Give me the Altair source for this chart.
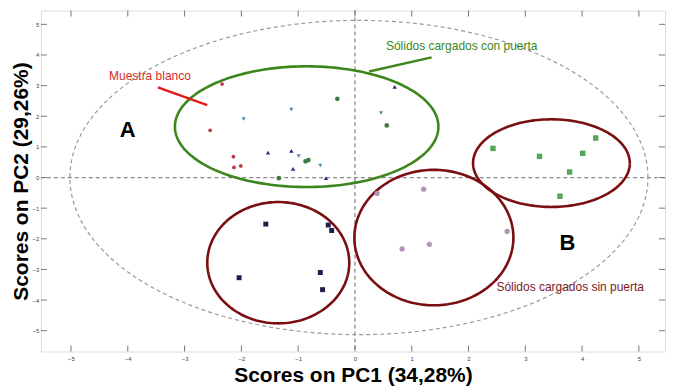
import altair as alt
import numpy as np
import pandas as pd

# ---- data ----
blank_x = [-2.34, -2.55, -2.14, -2.13, -2.01]
blank_y = [3.05, 1.54, 0.68, 0.33, 0.38]

dtri_x = [-1.96, -1.12, 0.46, -0.99, -0.61]
dtri_y = [1.91, 2.22, 2.11, 0.70, 0.39]

utri_x = [0.70, -1.53, -1.12, -1.09, -0.51]
utri_y = [2.96, 0.81, 0.87, 0.28, -0.02]

gdot_x = [-0.31, 0.56, -0.87, -0.82, -1.34]
gdot_y = [2.57, 1.70, 0.53, 0.57, -0.02]

nsq_x = [-1.57, -0.47, -0.41, -2.04, -0.61, -0.57]
nsq_y = [-1.52, -1.55, -1.73, -3.27, -3.10, -3.66]

pdot_x = [0.39, 1.21, 2.68, 0.83, 1.31]
pdot_y = [-0.52, -0.38, -1.76, -2.33, -2.18]

gsq_x = [2.43, 3.25, 4.24, 4.01, 3.78, 3.61]
gsq_y = [0.95, 0.69, 1.29, 0.79, 0.18, -0.61]

tick_values = [-5, -4, -3, -2, -1, 0, 1, 2, 3, 4, 5]

# ellipses: name, cx, cy, rx, ry
ell_names = ["T2", "green", "red1", "red2", "red3"]
ell_cx = [0.07, -0.85, -1.35, 1.39, 3.46]
ell_cy = [0.0, 1.66, -2.78, -1.96, 0.47]
ell_rx = [5.09, 2.32, 1.25, 1.40, 1.38]
ell_ry = [5.13, 1.97, 1.98, 2.21, 1.43]

XD = [-5.53, 5.46]
YD = [-5.68, 5.45]
W, H = 626, 342

groups = ["blank", "dtri", "utri", "gdot", "nsq", "pdot", "gsq"]
gx = [blank_x, dtri_x, utri_x, gdot_x, nsq_x, pdot_x, gsq_x]
gy = [blank_y, dtri_y, utri_y, gdot_y, nsq_y, pdot_y, gsq_y]
rows = []
for g, xs_, ys_ in zip(groups, gx, gy):
    for a, b in zip(xs_, ys_):
        rows.append({"x": a, "y": b, "g": g})
pts = pd.DataFrame(rows)

t = np.linspace(0, 2 * np.pi, 181)
erows = []
for n, cx, cy, rx, ry in zip(ell_names, ell_cx, ell_cy, ell_rx, ell_ry):
    for i, a in enumerate(t):
        erows.append({"x": cx + rx * np.cos(a), "y": cy + ry * np.sin(a), "g": n, "o": i})
ell = pd.DataFrame(erows)

xs = alt.Scale(domain=XD, nice=False, zero=False)
ys = alt.Scale(domain=YD, nice=False, zero=False)

x_axis = alt.Axis(
    values=tick_values, format="d", labelOverlap=False, ticks=False, domain=False,
    grid=False, labelFontSize=6, labelColor="#444", labelPadding=4,
    labelFont="Liberation Sans",
    title="Scores on PC1 (34,28%)", titleFont="Liberation Sans", titleFontSize=21,
    titleFontWeight="bold", titleColor="black", titleY=24, titleBaseline="middle")
y_axis = alt.Axis(
    values=tick_values, format="d", labelOverlap=False, ticks=False, domain=False,
    grid=False, labelFontSize=6, labelColor="#444", labelPadding=2,
    labelFont="Liberation Sans",
    title="Scores on PC2 (29,26%)", titleFont="Liberation Sans", titleFontSize=21,
    titleFontWeight="bold", titleColor="black", titleX=-19, titleBaseline="middle")


def X(f):
    return alt.X(f, scale=xs, axis=x_axis)


def Y(f):
    return alt.Y(f, scale=ys, axis=y_axis)


ticks_df = pd.DataFrame({"v": tick_values})
tick_style = dict(color="#777", strokeWidth=1)
tb = alt.Chart(ticks_df).mark_rule(**tick_style).encode(
    x=X("v:Q"), y=alt.value(H), y2=alt.value(H - 6))
tt = alt.Chart(ticks_df).mark_rule(**tick_style).encode(
    x=X("v:Q"), y=alt.value(0), y2=alt.value(6))
tl = alt.Chart(ticks_df).mark_rule(**tick_style).encode(
    y=Y("v:Q"), x=alt.value(0), x2=alt.value(6))
tr = alt.Chart(ticks_df).mark_rule(**tick_style).encode(
    y=Y("v:Q"), x=alt.value(W), x2=alt.value(W - 6))

zero_df = pd.DataFrame({"v": [0]})
zx = alt.Chart(zero_df).mark_rule(color="#8a8a8a", strokeDash=[4, 3], strokeWidth=1.3).encode(
    x=X("v:Q"))
zy = alt.Chart(zero_df).mark_rule(color="#8a8a8a", strokeDash=[4, 3], strokeWidth=1.3).encode(
    y=Y("v:Q"))

t2 = alt.Chart(ell[ell.g == "T2"]).mark_line(
    color="#9a9a9a", strokeDash=[4, 3], strokeWidth=1.2).encode(
    x=X("x:Q"), y=Y("y:Q"), order="o:Q")

ecol = alt.Chart(ell[ell.g != "T2"]).mark_line(strokeWidth=2.6).encode(
    x=X("x:Q"), y=Y("y:Q"), order="o:Q",
    detail="g:N",
    color=alt.Color("g:N", scale=alt.Scale(domain=["green", "red1", "red2", "red3"],
                                           range=["#3c861c", "#7a0f12", "#7a0f12", "#7a0f12"]),
                    legend=None))

# pointer lines
ptr = pd.DataFrame({
    "x": [-3.47, -2.60, 1.35, 0.25],
    "y": [2.94, 2.36, 3.92, 3.46],
    "g": ["r", "r", "gr", "gr"],
    "o": [0, 1, 0, 1],
})
ptrs = alt.Chart(ptr).mark_line(strokeWidth=2.4).encode(
    x=X("x:Q"), y=Y("y:Q"), order="o:Q", detail="g:N",
    color=alt.Color("g:N", scale=alt.Scale(domain=["r", "gr"], range=["#e01b1b", "#3c861c"]),
                    legend=None))

sc = alt.Chart(pts).mark_point(filled=True, opacity=1).encode(
    x=X("x:Q"), y=Y("y:Q"),
    color=alt.Color("g:N", scale=alt.Scale(
        domain=groups,
        range=["#b83a40", "#4f86aa", "#2b2b8c", "#3d7a45", "#1d1f4f", "#b396b6", "#55a55a"]),
        legend=None),
    shape=alt.Shape("g:N", scale=alt.Scale(
        domain=groups,
        range=["circle", "triangle-down", "triangle-up", "circle", "square", "circle", "square"]),
        legend=None),
    size=alt.Size("g:N", scale=alt.Scale(domain=groups, range=[14, 30, 26, 14, 18, 14, 20]),
                  legend=None),
)

labels_txt = ["Muestra blanco", "Sólidos cargados con puerta", "Sólidos cargados sin puerta"]
labels_x = [-3.61, 1.88, 3.79]
labels_y = [3.30, 4.29, -3.58]
labels_c = ["#d42a2a", "#3c861c", "#7a1a28"]
lab = pd.DataFrame({"x": labels_x, "y": labels_y, "t": labels_txt, "c": labels_c})
labs = alt.Chart(lab).mark_text(font="Liberation Sans", fontSize=12).encode(
    x=X("x:Q"), y=Y("y:Q"), text="t:N",
    color=alt.Color("c:N", scale=None))

big_txt = ["A", "B"]
big_x = [-4.0, 3.74]
big_y = [1.56, -2.14]
big = pd.DataFrame({"x": big_x, "y": big_y, "t": big_txt})
bigs = alt.Chart(big).mark_text(font="Liberation Sans", fontSize=22, fontWeight="bold",
                                color="black").encode(
    x=X("x:Q"), y=Y("y:Q"), text="t:N")

chart = alt.layer(zx, zy, t2, ecol, ptrs, tb, tt, tl, tr, labs, bigs, sc).resolve_scale(
    color="independent", shape="independent", size="independent"
).properties(
    width=W, height=H,
    autosize=alt.AutoSizeParams(type="none"),
    padding={"left": 33, "top": 2, "right": 4, "bottom": 36},
).configure_view(stroke="#808080", strokeWidth=1.5).configure(background="white")

chart.save("out.html", embed_options={"renderer": "svg", "actions": False})
